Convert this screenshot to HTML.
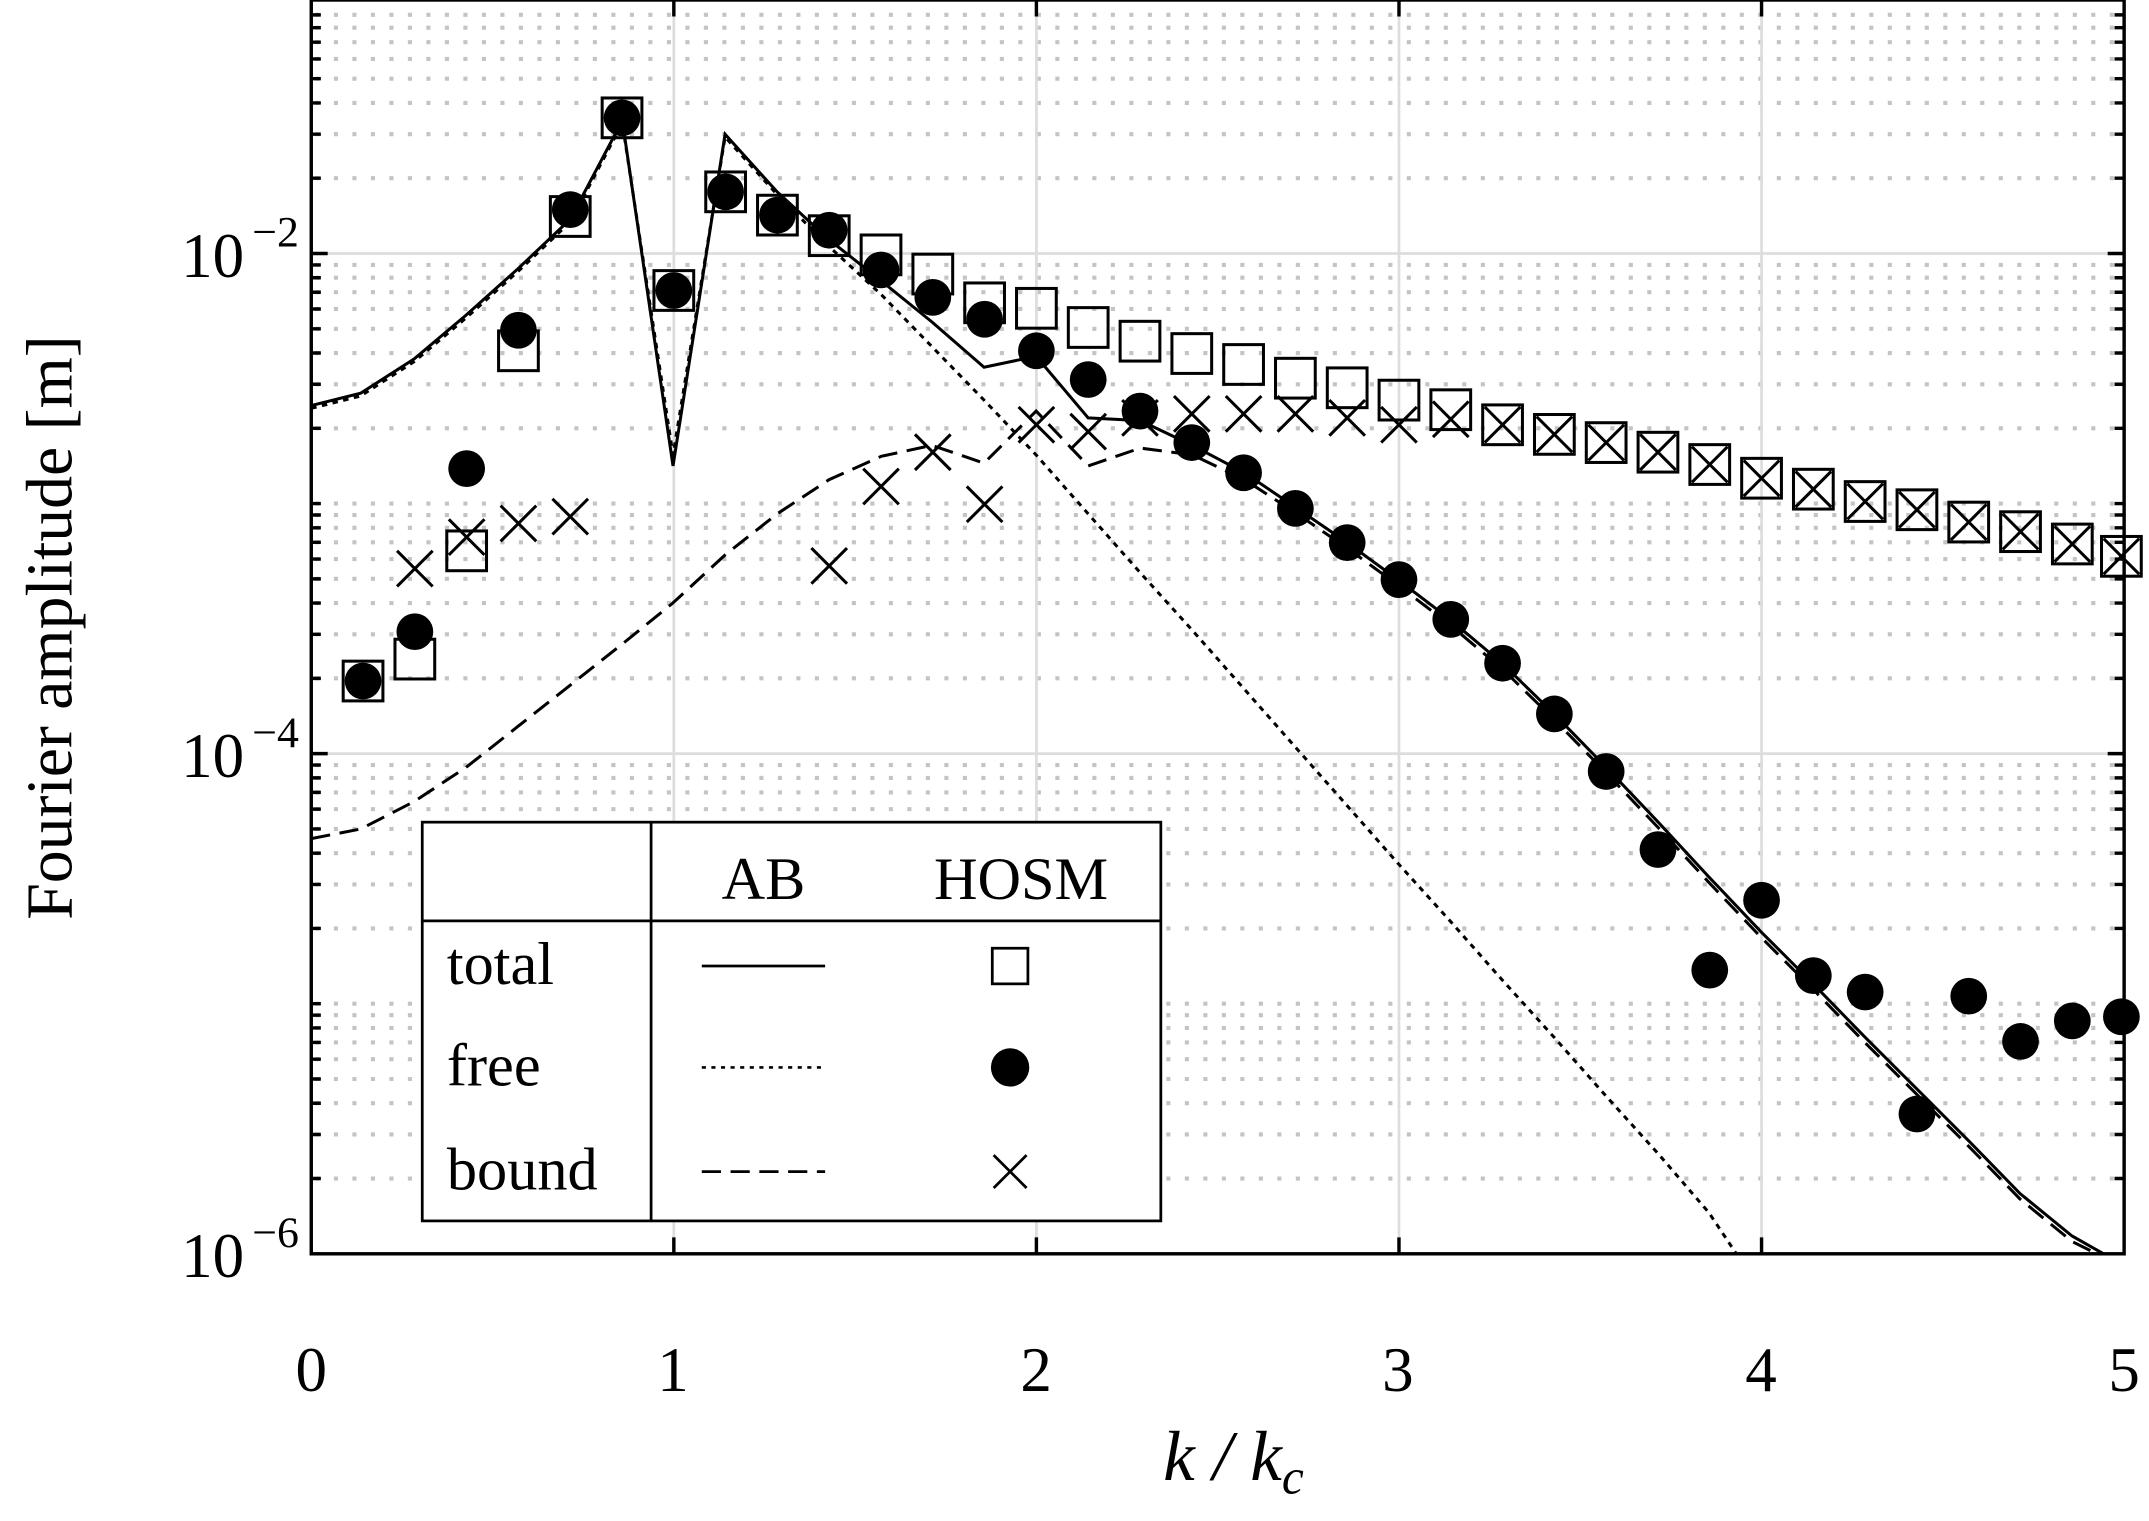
<!DOCTYPE html>
<html><head><meta charset="utf-8"><style>html,body{margin:0;padding:0;background:#fff}svg{display:block}</style></head><body>
<svg width="2149" height="1521" viewBox="0 0 1568 1110" xmlns="http://www.w3.org/2000/svg" xmlns:xlink="http://www.w3.org/1999/xlink" font-family="Liberation Serif, serif">
<defs>
<rect id="sq" x="-14.5" y="-14.5" width="29" height="29" fill="none" stroke="#000" stroke-width="2.2"/>
<circle id="ci" r="13.4" fill="#000"/>
<path id="cr" d="M-13 -13 L13 13 M13 -13 L-13 13" stroke="#000" stroke-width="2.2"/>
</defs>
<rect width="1568" height="1110" fill="#fff"/>
<path stroke="#c4c4c4" stroke-width="3" stroke-dasharray="3,10.5" fill="none" d="
M230 860.06H1550M230 827.93H1550M230 805.12H1550M230 787.44H1550M230 772.99H1550M230 760.77H1550M230 750.19H1550M230 740.85H1550M230 732.5H1550
M230 677.56H1550M230 645.43H1550M230 622.62H1550M230 604.94H1550M230 590.49H1550M230 578.27H1550M230 567.69H1550M230 558.35H1550
M230 495.06H1550M230 462.93H1550M230 440.12H1550M230 422.44H1550M230 407.99H1550M230 395.77H1550M230 385.19H1550M230 375.85H1550M230 367.5H1550
M230 312.56H1550M230 280.43H1550M230 257.62H1550M230 239.94H1550M230 225.49H1550M230 213.27H1550M230 202.69H1550M230 193.35H1550
M230 130.06H1550M230 97.93H1550M230 75.12H1550M230 57.44H1550M230 42.99H1550M230 30.77H1550M230 20.19H1550M230 10.85H1550"/>
<path stroke="#ddd" stroke-width="2" fill="none" d="M491.6 0V915M756.2 0V915M1020.8 0V915M1285.4 0V915M227 185H1550M227 550H1550"/>

<path stroke="#000" stroke-width="2.5" fill="none" d="
M227 185h12M227 550h12M1550 185h-12M1550 550h-12
M227 860.06h7M227 827.93h7M227 805.12h7M227 787.44h7M227 772.99h7M227 760.77h7M227 750.19h7M227 740.85h7M227 732.5h7
M227 677.56h7M227 645.43h7M227 622.62h7M227 604.94h7M227 590.49h7M227 578.27h7M227 567.69h7M227 558.35h7
M227 495.06h7M227 462.93h7M227 440.12h7M227 422.44h7M227 407.99h7M227 395.77h7M227 385.19h7M227 375.85h7M227 367.5h7
M227 312.56h7M227 280.43h7M227 257.62h7M227 239.94h7M227 225.49h7M227 213.27h7M227 202.69h7M227 193.35h7
M227 130.06h7M227 97.93h7M227 75.12h7M227 57.44h7M227 42.99h7M227 30.77h7M227 20.19h7M227 10.85h7
M1550 860.06h-7M1550 827.93h-7M1550 805.12h-7M1550 787.44h-7M1550 772.99h-7M1550 760.77h-7M1550 750.19h-7M1550 740.85h-7M1550 732.5h-7
M1550 677.56h-7M1550 645.43h-7M1550 622.62h-7M1550 604.94h-7M1550 590.49h-7M1550 578.27h-7M1550 567.69h-7M1550 558.35h-7
M1550 495.06h-7M1550 462.93h-7M1550 440.12h-7M1550 422.44h-7M1550 407.99h-7M1550 395.77h-7M1550 385.19h-7M1550 375.85h-7M1550 367.5h-7
M1550 312.56h-7M1550 280.43h-7M1550 257.62h-7M1550 239.94h-7M1550 225.49h-7M1550 213.27h-7M1550 202.69h-7M1550 193.35h-7
M1550 130.06h-7M1550 97.93h-7M1550 75.12h-7M1550 57.44h-7M1550 42.99h-7M1550 30.77h-7M1550 20.19h-7M1550 10.85h-7
M491.6 915v-12M756.2 915v-12M1020.8 915v-12M1285.4 915v-12
M491.6 0v12M756.2 0v12M1020.8 0v12M1285.4 0v12"/>

<g fill="none" stroke="#000" stroke-width="2.2">
<polyline points="227,296 263,287 302,262 340,230 378,196 416,160 454,88 491,340 529,98 567,140 605,175 643,205 680,235 718,268 756,260 794,305 832,307 870,325 908,345 945,370 983,396 1020,423 1058,452 1096,484 1134,521 1172,560 1210,600 1247,640 1285,680 1323,718 1361,757 1399,795 1437,833 1474,871 1512,902 1535,915"/>
<polyline stroke-dasharray="4,4" points="227,298 263,289 302,264 340,232 378,198 416,162 454,90 491,332 529,100 567,142 605,180 643,215 680,253 718,292 756,332 794,375 832,418 870,460 908,503 945,545 983,588 1020,630 1058,672 1096,715 1134,757 1172,800 1210,842 1247,885 1267,915"/>
<polyline stroke-dasharray="14,7" points="227,612 263,605 302,585 340,560 378,530 416,500 454,470 491,440 529,405 567,375 605,350 643,333 680,325 718,338 756,300 794,340 832,327 870,332 908,350 945,374 983,400 1020,427 1058,456 1096,488 1134,525 1172,564 1210,604 1247,644 1285,684 1323,722 1361,761 1399,799 1437,837 1474,875 1512,906 1530,915"/>
</g>

<g>
<use xlink:href="#sq" x="264.8" y="497"/><use xlink:href="#sq" x="302.6" y="481"/><use xlink:href="#sq" x="340.4" y="402"/><use xlink:href="#sq" x="378.2" y="256"/><use xlink:href="#sq" x="416" y="158"/><use xlink:href="#sq" x="453.8" y="86"/><use xlink:href="#sq" x="491.6" y="212"/><use xlink:href="#sq" x="529.4" y="140"/><use xlink:href="#sq" x="567.2" y="157"/><use xlink:href="#sq" x="605" y="172"/><use xlink:href="#sq" x="642.8" y="186"/><use xlink:href="#sq" x="680.6" y="200"/><use xlink:href="#sq" x="718.4" y="221"/><use xlink:href="#sq" x="756.2" y="225"/><use xlink:href="#sq" x="794" y="239"/><use xlink:href="#sq" x="831.8" y="249"/><use xlink:href="#sq" x="869.6" y="258"/><use xlink:href="#sq" x="907.4" y="266"/><use xlink:href="#sq" x="945.2" y="276"/><use xlink:href="#sq" x="983" y="283"/><use xlink:href="#sq" x="1020.8" y="292"/><use xlink:href="#sq" x="1058.6" y="299"/><use xlink:href="#sq" x="1096.4" y="310"/><use xlink:href="#sq" x="1134.2" y="317"/><use xlink:href="#sq" x="1172" y="323"/><use xlink:href="#sq" x="1209.8" y="330"/><use xlink:href="#sq" x="1247.6" y="339"/><use xlink:href="#sq" x="1285.4" y="349"/><use xlink:href="#sq" x="1323.2" y="357"/><use xlink:href="#sq" x="1361" y="366"/><use xlink:href="#sq" x="1398.8" y="372"/><use xlink:href="#sq" x="1436.6" y="381"/><use xlink:href="#sq" x="1474.4" y="388"/><use xlink:href="#sq" x="1512.2" y="397"/><use xlink:href="#sq" x="1548" y="406"/>
</g>
<g>
<use xlink:href="#cr" x="302.6" y="415"/><use xlink:href="#cr" x="340.4" y="392"/><use xlink:href="#cr" x="378.2" y="382"/><use xlink:href="#cr" x="416" y="377"/><use xlink:href="#cr" x="605" y="413"/><use xlink:href="#cr" x="642.8" y="355"/><use xlink:href="#cr" x="680.6" y="330"/><use xlink:href="#cr" x="718.4" y="368"/><use xlink:href="#cr" x="756.2" y="310"/><use xlink:href="#cr" x="794" y="315"/><use xlink:href="#cr" x="831.8" y="305"/><use xlink:href="#cr" x="869.6" y="302"/><use xlink:href="#cr" x="907.4" y="302"/><use xlink:href="#cr" x="945.2" y="302"/><use xlink:href="#cr" x="983" y="305"/><use xlink:href="#cr" x="1020.8" y="310"/><use xlink:href="#cr" x="1058.6" y="306"/><use xlink:href="#cr" x="1096.4" y="310"/><use xlink:href="#cr" x="1134.2" y="317"/><use xlink:href="#cr" x="1172" y="323"/><use xlink:href="#cr" x="1209.8" y="330"/><use xlink:href="#cr" x="1247.6" y="339"/><use xlink:href="#cr" x="1285.4" y="349"/><use xlink:href="#cr" x="1323.2" y="357"/><use xlink:href="#cr" x="1361" y="366"/><use xlink:href="#cr" x="1398.8" y="372"/><use xlink:href="#cr" x="1436.6" y="381"/><use xlink:href="#cr" x="1474.4" y="388"/><use xlink:href="#cr" x="1512.2" y="397"/><use xlink:href="#cr" x="1548" y="406"/>
</g>
<g>
<use xlink:href="#ci" x="264.8" y="497"/><use xlink:href="#ci" x="302.6" y="461"/><use xlink:href="#ci" x="340.4" y="342"/><use xlink:href="#ci" x="378.2" y="241"/><use xlink:href="#ci" x="416" y="153"/><use xlink:href="#ci" x="453.8" y="86"/><use xlink:href="#ci" x="491.6" y="212"/><use xlink:href="#ci" x="529.4" y="140"/><use xlink:href="#ci" x="567.2" y="157"/><use xlink:href="#ci" x="605" y="168"/><use xlink:href="#ci" x="642.8" y="197"/><use xlink:href="#ci" x="680.6" y="217"/><use xlink:href="#ci" x="718.4" y="233"/><use xlink:href="#ci" x="756.2" y="256"/><use xlink:href="#ci" x="794" y="277"/><use xlink:href="#ci" x="831.8" y="300"/><use xlink:href="#ci" x="869.6" y="323"/><use xlink:href="#ci" x="907.4" y="345"/><use xlink:href="#ci" x="945.2" y="371"/><use xlink:href="#ci" x="983" y="396"/><use xlink:href="#ci" x="1020.8" y="423"/><use xlink:href="#ci" x="1058.6" y="452"/><use xlink:href="#ci" x="1096.4" y="484"/><use xlink:href="#ci" x="1134.2" y="521"/><use xlink:href="#ci" x="1172" y="563"/><use xlink:href="#ci" x="1209.8" y="620"/><use xlink:href="#ci" x="1247.6" y="708"/><use xlink:href="#ci" x="1285.4" y="657"/><use xlink:href="#ci" x="1323.2" y="712"/><use xlink:href="#ci" x="1361" y="724"/><use xlink:href="#ci" x="1398.8" y="813"/><use xlink:href="#ci" x="1436.6" y="727"/><use xlink:href="#ci" x="1474.4" y="760"/><use xlink:href="#ci" x="1512.2" y="745"/><use xlink:href="#ci" x="1548" y="742"/>
</g>

<rect x="227" y="0" width="1323" height="915" fill="none" stroke="#000" stroke-width="2.5"/>
<g font-size="46" text-anchor="middle">
<text x="227" y="1015">0</text><text x="491" y="1015">1</text><text x="756" y="1015">2</text><text x="1020" y="1015">3</text><text x="1285" y="1015">4</text><text x="1550" y="1015">5</text>
</g>
<g font-size="46" text-anchor="end">
<text x="178" y="202">10</text><text x="218" y="180" font-size="32">−2</text>
<text x="178" y="567">10</text><text x="218" y="545" font-size="32">−4</text>
<text x="178" y="932">10</text><text x="218" y="910" font-size="32">−6</text>
</g>
<text x="900" y="1080" font-size="52" text-anchor="middle" font-style="italic">k / k<tspan font-size="36" dy="10">c</tspan></text>
<text transform="translate(52,458) rotate(-90)" font-size="48" text-anchor="middle">Fourier amplitude [m]</text>
<g>
<rect x="308" y="600" width="539" height="291" fill="#fff" stroke="#000" stroke-width="2"/>
<line x1="475" y1="600" x2="475" y2="891" stroke="#000" stroke-width="2"/>
<line x1="308" y1="672" x2="847" y2="672" stroke="#000" stroke-width="2"/>
<g font-size="44"><text x="557" y="656" text-anchor="middle">AB</text><text x="745" y="656" text-anchor="middle">HOSM</text>
<text x="326" y="718">total</text><text x="326" y="792">free</text><text x="326" y="868">bound</text></g>
<line x1="512" y1="705" x2="602" y2="705" stroke="#000" stroke-width="2"/>
<line x1="512" y1="779" x2="602" y2="779" stroke="#000" stroke-width="2" stroke-dasharray="3,4"/>
<line x1="512" y1="855" x2="602" y2="855" stroke="#000" stroke-width="2" stroke-dasharray="14,7"/>
<rect x="724" y="692" width="26" height="26" fill="none" stroke="#000" stroke-width="2"/>
<circle cx="737" cy="779" r="14"/>
<path d="M725 843 L749 867 M749 843 L725 867" stroke="#000" stroke-width="2"/>
</g>
</svg>
</body></html>
